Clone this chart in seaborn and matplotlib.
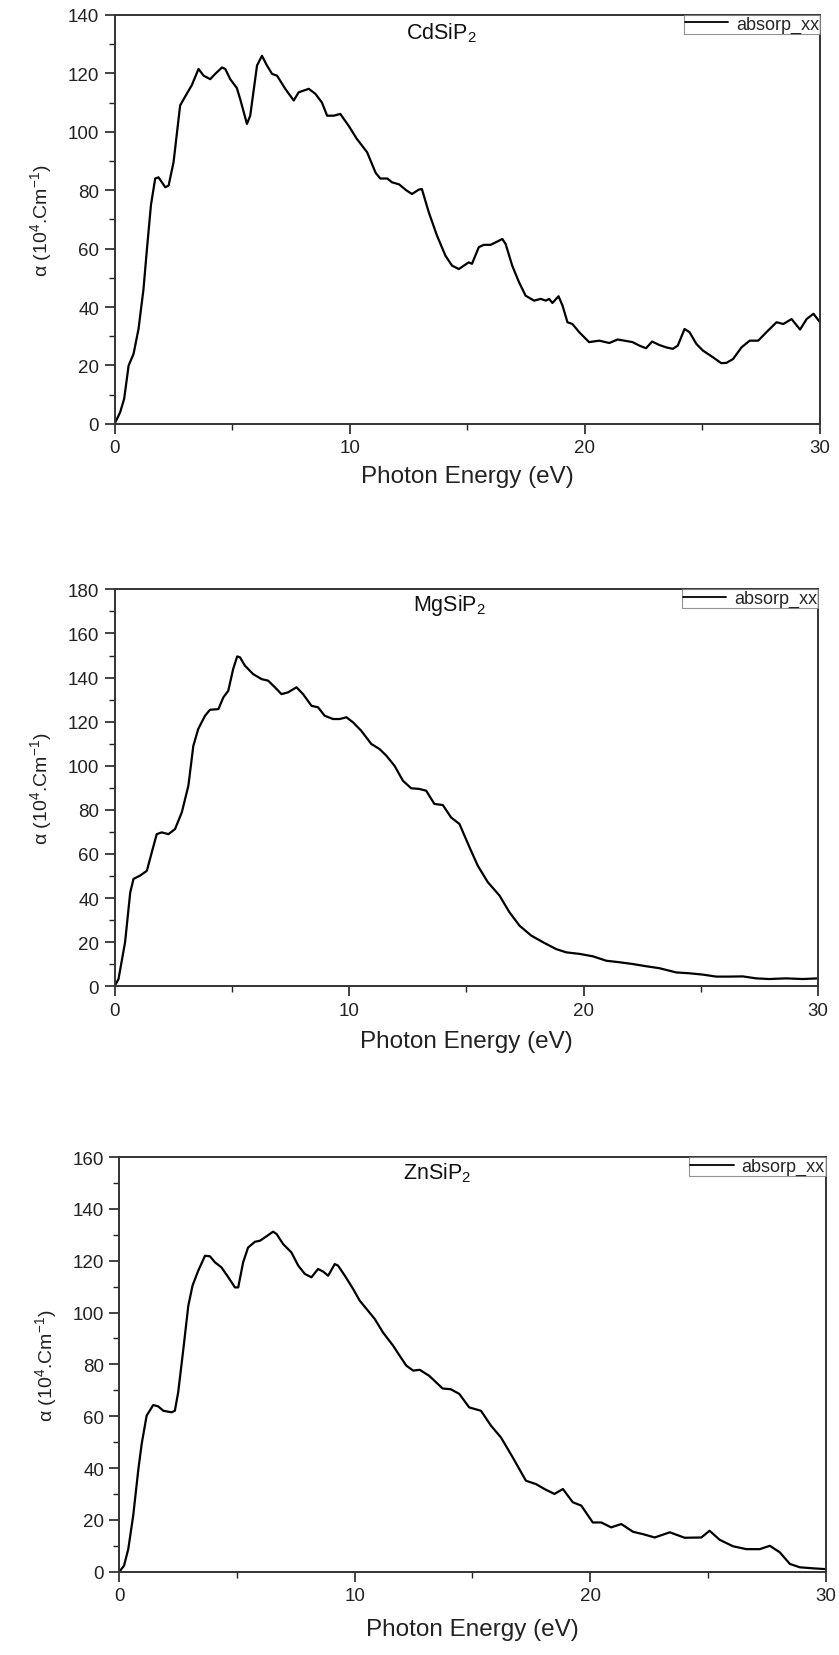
import numpy as np
import pandas as pd
import matplotlib
matplotlib.use("Agg")
import matplotlib.pyplot as plt
import seaborn as sns

# ---------------- data ----------------
cd_energy = [0, 0.24, 0.41, 0.6, 0.81, 1.02, 1.23, 1.38, 1.55, 1.73, 1.87, 2.16, 2.3, 2.51, 2.79, 3.0,
             3.29, 3.57, 3.79, 4.07, 4.28, 4.57, 4.71, 4.92, 5.2, 5.35, 5.63, 5.77, 6.06, 6.27, 6.48,
             6.7, 6.91, 7.26, 7.62, 7.83, 8.26, 8.54, 8.82, 9.04, 9.32, 9.6, 9.96, 10.3, 10.74, 11.1,
             11.3, 11.6, 11.8, 12.1, 12.4, 12.65, 12.94, 13.07, 13.36, 13.71, 14.07, 14.35, 14.64,
             15.06, 15.2, 15.49, 15.7, 15.99, 16.27, 16.49, 16.63, 16.91, 17.2, 17.48, 17.84, 18.12,
             18.34, 18.48, 18.62, 18.88, 19.05, 19.26, 19.47, 19.76, 20.18, 20.61, 21.04, 21.39,
             21.68, 22.03, 22.32, 22.6, 22.86, 23.17, 23.46, 23.74, 23.95, 24.24, 24.45, 24.74,
             25.02, 25.45, 25.8, 26.02, 26.3, 26.66, 27.01, 27.37, 27.72, 28.15, 28.44, 28.79,
             29.15, 29.43, 29.72, 30.0]
cd_alpha = [0, 4, 8.6, 20, 24, 32.5, 46, 60, 75, 84, 84.4, 81, 81.6, 89.6, 109, 112,
            116, 121.5, 119.2, 118, 119.8, 122, 121.5, 118, 115, 111, 102.7, 105.5, 122.7, 126, 122.7,
            119.8, 119.2, 114.7, 110.7, 113.5, 114.7, 113, 110, 105.5, 105.5, 106.1, 102, 97.6, 93, 86,
            84, 84, 82.7, 82, 80, 78.7, 80.2, 80.4, 72.5, 64.5, 57.6, 54.2, 53,
            55.3, 54.8, 60.5, 61.3, 61.3, 62.4, 63.3, 61.6, 54.2, 48.5, 43.9, 42.2, 42.8,
            42.2, 42.8, 41.4, 43.7, 40.5, 34.8, 34.2, 31.4, 28, 28.5, 27.7, 28.9,
            28.5, 28, 26.8, 25.9, 28.2, 27, 26.2, 25.7, 26.8, 32.5, 31.4, 27.4,
            25.1, 22.8, 20.8, 20.9, 22.2, 26.2, 28.5, 28.5, 31.4, 34.8, 34.2, 35.9,
            32.3, 35.9, 37.7, 34.8]

mg_energy = [0, 0.17, 0.45, 0.67, 0.81, 1.09, 1.38, 1.59, 1.8, 2.01, 2.3, 2.58, 2.87, 3.15, 3.36,
             3.57, 3.86, 4.07, 4.43, 4.64, 4.85, 5.06, 5.23, 5.35, 5.56, 5.91, 6.27, 6.55, 6.84,
             7.12, 7.4, 7.76, 8.04, 8.4, 8.68, 8.96, 9.32, 9.6, 9.89, 10.17, 10.52, 10.95, 11.3,
             11.59, 11.94, 12.3, 12.65, 13.0, 13.29, 13.64, 14.0, 14.35, 14.71, 15.14, 15.49,
             15.92, 16.42, 16.84, 17.27, 17.77, 18.27, 18.83, 19.26, 19.83, 20.4, 20.97, 21.54,
             22.1, 22.67, 23.24, 23.95, 24.52, 25.09, 25.66, 26.22, 26.79, 27.36, 27.92, 28.63,
             29.35, 30.0]
mg_alpha = [0, 3.3, 20, 42.6, 48.7, 50.2, 52.4, 60.8, 69, 69.8, 69, 71.3, 78.9, 91, 109,
            116.7, 122.7, 125.4, 125.7, 131, 134, 143.9, 149.6, 149.2, 145.4, 141.6, 139.3, 138.6, 135.6,
            132.5, 133.3, 135.6, 132.5, 127.2, 126.5, 122.7, 121.2, 121.2, 122, 119.7, 115.9, 109.9, 107.6,
            104.6, 100, 93.2, 89.8, 89.5, 88.7, 82.7, 82.2, 76.6, 73.6, 63, 54.7,
            47.2, 41.1, 33.6, 27.5, 23, 20, 16.9, 15.4, 14.7, 13.6, 11.6, 10.9,
            10.1, 9.1, 8.2, 6.3, 5.9, 5.3, 4.4, 4.4, 4.5, 3.6, 3.3, 3.6,
            3.3, 3.6]

zn_energy = [0, 0.2, 0.38, 0.59, 0.81, 0.95, 1.16, 1.44, 1.65, 1.87, 2.22, 2.36, 2.5, 2.72, 2.93,
             3.11, 3.35, 3.64, 3.85, 4.06, 4.34, 4.63, 4.91, 5.05, 5.26, 5.47, 5.76, 5.97, 6.25,
             6.53, 6.68, 6.96, 7.31, 7.6, 7.88, 8.16, 8.44, 8.66, 8.87, 9.15, 9.29, 9.58, 9.93,
             10.21, 10.5, 10.85, 11.2, 11.63, 11.91, 12.19, 12.48, 12.76, 13.16, 13.73, 14.08,
             14.44, 14.86, 15.36, 15.79, 16.21, 16.71, 17.27, 17.7, 18.06, 18.48, 18.84, 19.26,
             19.62, 20.11, 20.47, 20.89, 21.32, 21.82, 22.24, 22.74, 23.38, 24.01, 24.72, 25.07,
             25.5, 26.07, 26.64, 27.2, 27.63, 28.05, 28.48, 28.9, 29.47, 30.0]
zn_alpha = [0, 2.3, 8.7, 21.6, 39.6, 49.3, 60.2, 64.3, 63.8, 62.1, 61.5, 62.1, 69.2, 85.9, 102.6,
            110.4, 116.1, 121.9, 121.7, 119.4, 117.4, 113.6, 109.7, 109.7, 119.4, 125.1, 127.3, 127.7, 129.4,
            131.2, 130.3, 126.4, 123.2, 118.1, 114.9, 113.6, 116.8, 115.8, 114.2, 118.7, 118.1, 114.2, 109.1,
            104.6, 101.4, 97.5, 92.3, 87.2, 83.3, 79.5, 77.6, 77.9, 75.6, 70.7, 70.4,
            68.6, 63.4, 62.1, 56.3, 51.8, 44.1, 35.1, 33.8, 31.9, 30, 31.9, 26.8,
            25.5, 19, 19, 17.1, 18.4, 15.4, 14.5, 13.2, 15.2, 13.1, 13.2, 15.8,
            12.3, 9.8, 8.7, 8.7, 10, 7.5, 3, 1.7, 1.3, 1.0]

compounds = ["CdSiP$_2$", "MgSiP$_2$", "ZnSiP$_2$"]
y_limits = [140, 180, 160]
series_label = "absorp_xx"
x_label = "Photon Energy (eV)"
y_label = "α (10$^{4}$.Cm$^{-1}$)"

# ---------------- style ----------------
sns.set_theme(style="ticks")
plt.rcParams["font.family"] = ["Liberation Sans", "DejaVu Sans"]
plt.rcParams["mathtext.fontset"] = "custom"
plt.rcParams["mathtext.rm"] = "Liberation Sans"
plt.rcParams["mathtext.it"] = "Liberation Sans:italic"
plt.rcParams["mathtext.default"] = "regular"

fig = plt.figure(figsize=(8.39, 16.56), dpi=100)
fig.patch.set_facecolor("white")

positions = [
    [0.1365, 0.7434, 0.8409, 0.2470],
    [0.1365, 0.4038, 0.8385, 0.2397],
    [0.1422, 0.0503, 0.8419, 0.2504],
]
label_pos = [(13.9, 134), (14.3, 173), (13.5, 154)]
xlabel_pad = [6, 8, 10]

datasets = [(cd_energy, cd_alpha), (mg_energy, mg_alpha), (zn_energy, zn_alpha)]

for i, ((e, a), pos) in enumerate(zip(datasets, positions)):
    ax = fig.add_axes(pos)
    df = pd.DataFrame({"energy": e, "alpha": a, "series": series_label})
    sns.lineplot(data=df, x="energy", y="alpha", hue="series", palette=["black"],
                 linewidth=1.6, ax=ax, estimator=None, sort=False)
    ax.set_xlim(0, 30)
    ax.set_ylim(0, y_limits[i])
    ax.set_xticks([0, 10, 20, 30])
    ax.set_xticks([5, 15, 25], minor=True)
    ax.set_yticks(np.arange(0, y_limits[i] + 1, 20))
    ax.set_yticks(np.arange(10, y_limits[i], 20), minor=True)
    ax.tick_params(axis="both", which="major", direction="out", length=7, width=1.2,
                   labelsize=13.5, colors="#222222", pad=4)
    ax.tick_params(axis="both", which="minor", direction="out", length=4, width=1.0,
                   colors="#222222")
    ax.tick_params(top=False, right=False, which="both")
    for s in ax.spines.values():
        s.set_visible(True)
        s.set_linewidth(1.4)
        s.set_color("#333333")
    ax.set_xlabel(x_label, fontsize=17.5, color="#222222", labelpad=xlabel_pad[i])
    ax.set_ylabel(y_label, fontsize=14, color="#222222", labelpad=10)
    ax.text(label_pos[i][0], label_pos[i][1], compounds[i], fontsize=15.5,
            ha="center", va="center", color="#111111")
    leg = ax.legend(loc="upper right", borderaxespad=0, fontsize=13, frameon=True,
                    fancybox=False, handlelength=2.4, handletextpad=0.45,
                    borderpad=0.05)
    leg.get_frame().set_edgecolor("#777777")
    leg.get_frame().set_linewidth(0.8)
    for line in leg.get_lines():
        line.set_linewidth(1.3)

fig.savefig("out.png", dpi=100, facecolor="white")
